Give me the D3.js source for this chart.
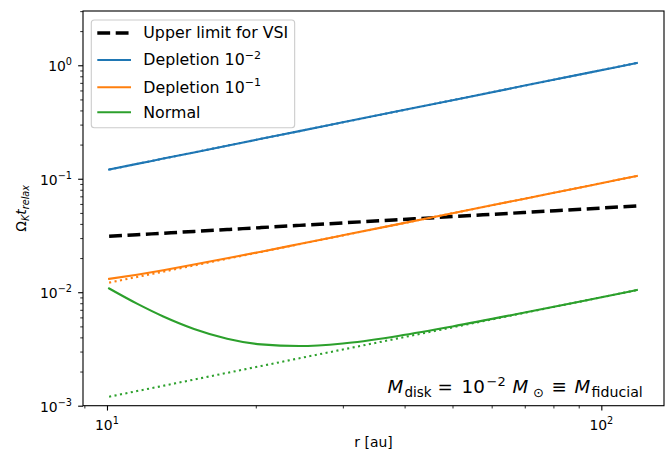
<!DOCTYPE html>
<html>
<head>
<meta charset="utf-8">
<script src="https://cdn.jsdelivr.net/npm/d3@7"></script>
<style>
  body { margin: 0; background: #fff; }
  svg { display: block; }
  text { font-family: "DejaVu Sans", sans-serif; fill: #000; }
</style>
</head>
<body>
<svg id="chart" width="670" height="455"></svg>
<script>
// Radius grid [au]
const radius = [10.1, 11.5, 13, 15, 17.5, 20.5, 24.5, 30, 38, 50, 70, 95, 118];

// Upper limit for the vertical shear instability
const vsiLimit = [0.0311, 0.03213, 0.03312, 0.03433, 0.03568, 0.03713, 0.03882, 0.04083, 0.04331, 0.04639, 0.05046, 0.05447, 0.0575];

// Depletion 1e-2: full result and power-law approximation (dotted)
const depletion2 = [0.1206, 0.1352, 0.1505, 0.1707, 0.1955, 0.2247, 0.2629, 0.3141, 0.3867, 0.4924, 0.6621, 0.8661, 1.048];
const depletion2Approx = [0.1205, 0.1351, 0.1505, 0.1707, 0.1955, 0.2247, 0.2629, 0.3141, 0.3867, 0.4924, 0.6621, 0.8661, 1.048];

// Depletion 1e-1
const depletion1 = [0.01311, 0.01428, 0.01563, 0.01752, 0.01991, 0.02277, 0.02658, 0.03172, 0.03901, 0.04965, 0.06676, 0.08733, 0.1057];
const depletion1Approx = [0.01215, 0.01362, 0.01517, 0.01721, 0.01971, 0.02265, 0.02651, 0.03168, 0.03899, 0.04964, 0.06676, 0.08733, 0.1057];

// Normal (undepleted) disk
const normal = [0.0108, 0.007934, 0.006116, 0.004749, 0.003897, 0.00347, 0.003353, 0.003536, 0.004057, 0.004996, 0.006628, 0.008639, 0.01045];
const normalApprox = [0.0012, 0.001345, 0.001498, 0.0017, 0.001947, 0.002237, 0.002618, 0.003128, 0.003851, 0.004903, 0.006593, 0.008625, 0.01044];

// Tick labels (powers of ten)
const xTicks = [10, 100];
const xTickExponents = ["1", "2"];
const yTicks = [1e-3, 1e-2, 1e-1, 1];
const yTickExponents = ["\u22123", "\u22122", "\u22121", "0"];

const legendLabels = ["Upper limit for VSI", "Depletion 10", "Depletion 10", "Normal"];
const legendExponents = [null, "\u22122", "\u22121", null];

const C_BLUE = "#1f77b4", C_ORANGE = "#ff7f0e", C_GREEN = "#2ca02c";

const svg = d3.select("#chart");
const plot = { left: 83, top: 11, right: 664, bottom: 405.7 };

const x = d3.scaleLog().domain([8.943, 133.9]).range([plot.left, plot.right]);
const y = d3.scaleLog().domain([1e-3, 3.008]).range([plot.bottom, plot.top]);

svg.append("defs").append("clipPath").attr("id", "plotClip")
  .append("rect")
  .attr("x", plot.left).attr("y", plot.top)
  .attr("width", plot.right - plot.left).attr("height", plot.bottom - plot.top);

const line = d3.line()
  .x(d => x(d[0]))
  .y(d => y(d[1]))
  .curve(d3.curveMonotoneX);

const pairs = vals => radius.map((r, i) => [r, vals[i]]);

const g = svg.append("g").attr("clip-path", "url(#plotClip)");

const curves = [
  { vals: vsiLimit, color: "#000", width: 3.47, dash: "12.85,5.55" },
  { vals: depletion2, color: C_BLUE, width: 2.08, dash: null },
  { vals: depletion2Approx, color: C_BLUE, width: 2.08, dash: "2.08,3.44" },
  { vals: depletion1, color: C_ORANGE, width: 2.08, dash: null },
  { vals: depletion1Approx, color: C_ORANGE, width: 2.08, dash: "2.08,3.44" },
  { vals: normal, color: C_GREEN, width: 2.08, dash: null },
  { vals: normalApprox, color: C_GREEN, width: 2.08, dash: "2.08,3.44" }
];

curves.forEach(c => {
  g.append("path")
    .datum(pairs(c.vals))
    .attr("d", line)
    .attr("fill", "none")
    .attr("stroke", c.color)
    .attr("stroke-width", c.width)
    .attr("stroke-dasharray", c.dash)
    .attr("stroke-linecap", c.dash ? "butt" : "square");
});

// Axes: major and minor ticks
function minorTicks(domain) {
  const out = [];
  const lo = Math.floor(Math.log10(domain[0])), hi = Math.ceil(Math.log10(domain[1]));
  for (let e = lo; e <= hi; e++) {
    for (let m = 2; m <= 9; m++) {
      const v = m * Math.pow(10, e);
      if (v >= domain[0] && v <= domain[1]) out.push(v);
    }
  }
  return out;
}

const tickStyle = (sel, w) => {
  sel.select(".domain").remove();
  sel.selectAll("line").attr("stroke", "#000").attr("stroke-width", w);
  sel.selectAll("text").remove();
};

svg.append("g").attr("transform", `translate(0,${plot.bottom})`)
  .call(d3.axisBottom(x).tickValues(xTicks).tickSize(4.86).tickFormat(""))
  .call(s => tickStyle(s, 1.11));
svg.append("g").attr("transform", `translate(0,${plot.bottom})`)
  .call(d3.axisBottom(x).tickValues(minorTicks(x.domain())).tickSize(2.78).tickFormat(""))
  .call(s => tickStyle(s, 0.83));
svg.append("g").attr("transform", `translate(${plot.left},0)`)
  .call(d3.axisLeft(y).tickValues(yTicks).tickSize(4.86).tickFormat(""))
  .call(s => tickStyle(s, 1.11));
svg.append("g").attr("transform", `translate(${plot.left},0)`)
  .call(d3.axisLeft(y).tickValues(minorTicks(y.domain())).tickSize(2.78).tickFormat(""))
  .call(s => tickStyle(s, 0.83));

// Power-of-ten label helper
function powerLabel(textSel, exp, size) {
  textSel.append("tspan").text("10");
  textSel.append("tspan").attr("font-size", size * 0.7).attr("dy", -6).text(exp);
}

xTicks.forEach((t, i) => {
  const tx = svg.append("text")
    .attr("x", x(t)).attr("y", plot.bottom + 24.5)
    .attr("text-anchor", "middle").attr("font-size", 13.9);
  powerLabel(tx, xTickExponents[i], 13.9);
});

yTicks.forEach((t, i) => {
  const ty = svg.append("text")
    .attr("x", 72).attr("y", y(t) + 6)
    .attr("text-anchor", "end").attr("font-size", 13.9);
  powerLabel(ty, yTickExponents[i], 13.9);
});

// Frame
svg.append("rect")
  .attr("x", plot.left).attr("y", plot.top)
  .attr("width", plot.right - plot.left).attr("height", plot.bottom - plot.top)
  .attr("fill", "none").attr("stroke", "#000").attr("stroke-width", 1.11);

// Axis labels
svg.append("text")
  .attr("x", (plot.left + plot.right) / 2).attr("y", 447)
  .attr("text-anchor", "middle").attr("font-size", 13.9)
  .text("r [au]");

const yl = svg.append("text")
  .attr("transform", `translate(26,${(plot.top + plot.bottom) / 2}) rotate(-90)`)
  .attr("text-anchor", "middle").attr("font-size", 13.9);
yl.append("tspan").text("\u03A9");
yl.append("tspan").attr("font-style", "italic").attr("font-size", 9.7).attr("dy", 3).text("K");
yl.append("tspan").attr("font-style", "italic").attr("dy", -3).text("t");
yl.append("tspan").attr("font-style", "italic").attr("font-size", 9.7).attr("dy", 3).text("relax");

// Annotation: disk mass relation, typeset piece by piece
const annBase = 393.3;
const ann = svg.append("text").attr("font-size", 18.3);
const annParts = [
  { t: "M", x: 387.5, dy: 0, italic: true },
  { t: "disk", x: 404.5, dy: 3.5, size: 13.5 },
  { t: "=", x: 437.5, dy: 0 },
  { t: "10", x: 461.5, dy: 0 },
  { t: "\u22122", x: 486.5, dy: -7.5, size: 13 },
  { t: "M", x: 512.5, dy: 0, italic: true },
  { t: "\u2299", x: 533, dy: 3.5, size: 13 },
  { t: "\u2261", x: 551.5, dy: 0 },
  { t: "M", x: 574.5, dy: 0, italic: true },
  { t: "fiducial", x: 591.5, dy: 3.5, size: 14.2 }
];
annParts.forEach(p => {
  ann.append("tspan")
    .attr("x", p.x).attr("y", annBase + p.dy)
    .attr("font-size", p.size || null)
    .attr("font-style", p.italic ? "italic" : null)
    .text(p.t);
});

// Legend
const legFont = 15.8;
const legend = svg.append("g");
const legBox = legend.append("rect")
  .attr("x", 91.3).attr("y", 20).attr("rx", 3).attr("ry", 3)
  .attr("height", 107.7)
  .attr("fill", "#fff").attr("fill-opacity", 0.8)
  .attr("stroke", "#cccccc").attr("stroke-width", 1.11);

const legendStyles = [
  { color: "#000", width: 3.47, dash: "12.85,5.55" },
  { color: C_BLUE, width: 2.08, dash: null },
  { color: C_ORANGE, width: 2.08, dash: null },
  { color: C_GREEN, width: 2.08, dash: null }
];
const legendRows = [33, 60, 87.3, 112.3];
let maxRight = 0;
legendLabels.forEach((lab, i) => {
  const st = legendStyles[i];
  legend.append("line")
    .attr("x1", 97.3).attr("x2", 131).attr("y1", legendRows[i]).attr("y2", legendRows[i])
    .attr("stroke", st.color).attr("stroke-width", st.width)
    .attr("stroke-dasharray", st.dash);
  const t = legend.append("text")
    .attr("x", 143.3).attr("y", legendRows[i] + 5.4)
    .attr("font-size", legFont);
  if (legendExponents[i]) {
    t.append("tspan").text(lab);
    t.append("tspan").attr("font-size", legFont * 0.7).attr("dy", -6.6).text(legendExponents[i]);
  } else {
    t.text(lab);
  }
  const bb = t.node().getBBox();
  maxRight = Math.max(maxRight, bb.x + bb.width);
});
legBox.attr("width", maxRight + 6.5 - 91.3);
</script>
</body>
</html>
